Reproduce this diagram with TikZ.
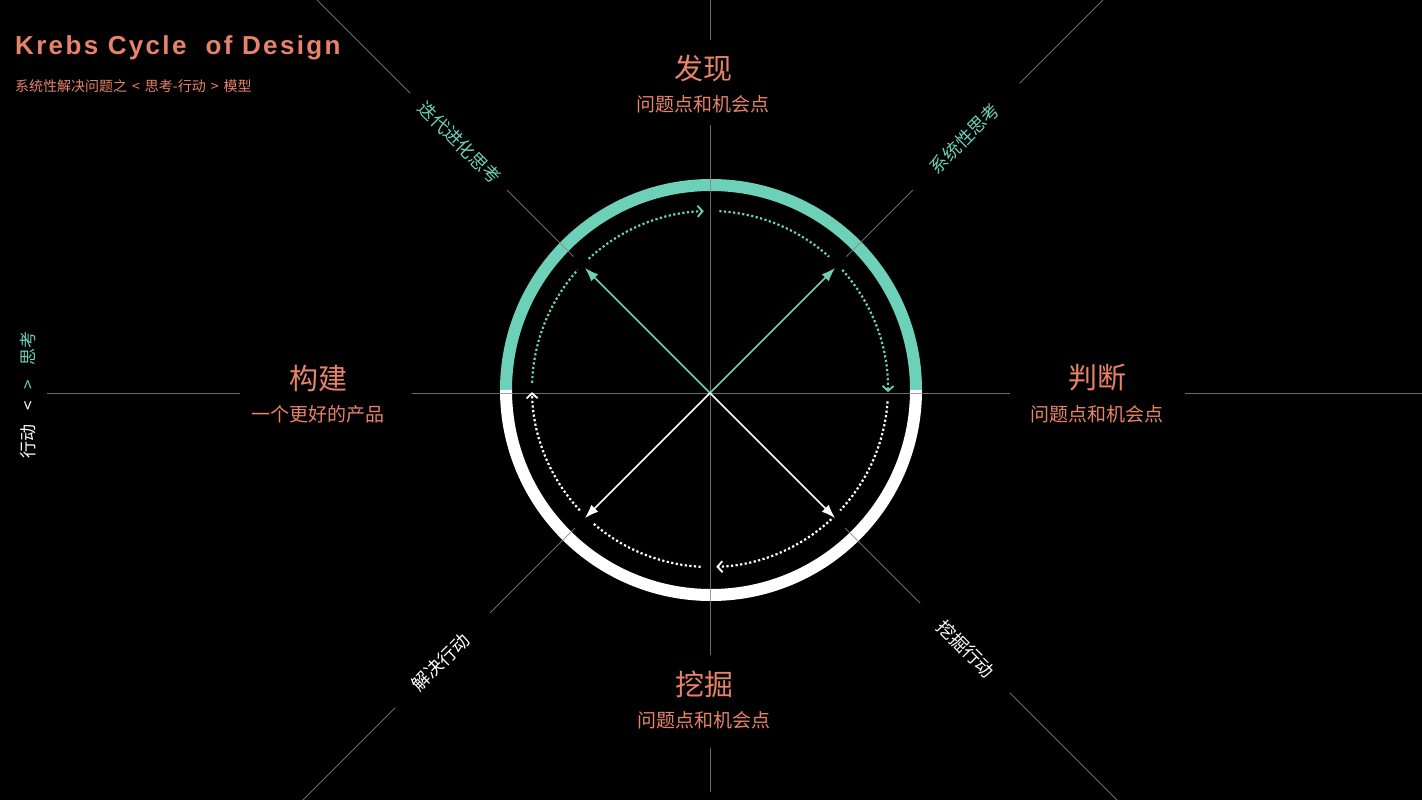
\documentclass[tikz,border=0pt]{standalone}
\usepackage{fontspec}
\setmainfont{Noto Sans CJK SC}
\newfontfamily\titlefont[LetterSpace=9]{Liberation Sans}
\usetikzlibrary{positioning, arrows.meta}
\definecolor{krebsteal}{HTML}{6DD0B8}
\definecolor{krebsorange}{HTML}{E8836A}
\definecolor{axisgray}{HTML}{858585}
\tikzset{
	axis/.style={draw=axisgray, line width=0.9pt, opacity=0.8}, % thin grey guide lines
	ring/.style={line width=12pt}, % the thick outer ring
	flow/.style={line width=2.2pt, dash pattern=on 2.2pt off 2.4pt}, % dotted cycle
	chev/.style={-{Straight Barb[length=5pt, width=11pt, line width=1.8pt]}}, % open arrow head on the cycle
	ray/.style={line width=1.7pt, -{Latex[length=14pt, width=10pt]}}, % arrows out of the centre
	head/.style={text=krebsorange, font=\fontsize{29}{32}\selectfont, inner sep=0pt},
	sub/.style={text=krebsorange, font=\fontsize{19}{22}\selectfont, inner sep=0pt},
	tag/.style={text=white, font=\fontsize{18}{20}\selectfont, inner sep=0pt},
}
\begin{document}
\begin{tikzpicture}[x=1pt, y=-1pt, on grid]
        \useasboundingbox (0,0) rectangle (1422,800);
        \fill[black] (0,0) rectangle (1422,800);
        \coordinate (c) at (710,393); % where the arrows start
        \coordinate (o) at (710,389); % centre of the dotted cycle
        \coordinate (r) at (711,390); % centre of the ring

        % Outer ring: thinking on top, acting below
        \draw[ring, krebsteal] ([shift={(180:205)}]r) arc[start angle=180, end angle=360, radius=205];
        \draw[ring, white] ([shift={(0:205)}]r) arc[start angle=0, end angle=180, radius=205];

        % Guide lines
        \draw[axis] (710,0) -- (710,40);
        \draw[axis] (710,125) -- (710,655);
        \draw[axis] (710,748) -- (710,792);
        \draw[axis] (47,393) -- (240,393);
        \draw[axis] (412,393) -- (1010,393);
        \draw[axis] (1185,393) -- (1422,393);
        \draw[axis] ([shift={(225:556)}]c) -- ([shift={(225:424)}]c);
        \draw[axis] ([shift={(225:287)}]c) -- ([shift={(225:193)}]c);
        \draw[axis] ([shift={(315:556)}]c) -- ([shift={(315:438)}]c);
        \draw[axis] ([shift={(315:287)}]c) -- ([shift={(315:193)}]c);
        \draw[axis] ([shift={(45:191)}]c) -- ([shift={(45:297)}]c);
        \draw[axis] ([shift={(45:424)}]c) -- ([shift={(45:576)}]c);
        \draw[axis] ([shift={(135:191)}]c) -- ([shift={(135:311)}]c);
        \draw[axis] ([shift={(135:445)}]c) -- ([shift={(135:576)}]c);

        % Dotted cycle, running clockwise
        \draw[flow, krebsteal] ([shift={(182:178)}]o) arc[start angle=182, end angle=222, radius=178];
        \draw[flow, krebsteal, chev] ([shift={(227:178)}]o) arc[start angle=227, end angle=268, radius=178];
        \draw[flow, krebsteal] ([shift={(273:178)}]o) arc[start angle=273, end angle=312, radius=178];
        \draw[flow, krebsteal, chev] ([shift={(318:178)}]o) arc[start angle=318, end angle=361, radius=178];
        \draw[flow, white] ([shift={(4:178)}]o) arc[start angle=4, end angle=43, radius=178];
        \draw[flow, white, chev] ([shift={(47:178)}]o) arc[start angle=47, end angle=88, radius=178];
        \draw[flow, white] ([shift={(93:178)}]o) arc[start angle=93, end angle=131, radius=178];
        \draw[flow, white, chev] ([shift={(137:178)}]o) arc[start angle=137, end angle=179, radius=178];

        % Arrows out of the centre
        \coordinate (tl) at ([shift={(225:177)}]c);
        \coordinate (tr) at ([shift={(315:177)}]c);
        \coordinate (br) at ([shift={(45:177)}]c);
        \coordinate (bl) at ([shift={(135:177)}]c);
        \draw[ray, krebsteal] (c) -- (tl);
        \draw[ray, krebsteal] (c) -- (tr);
        \draw[ray, white] (c) -- (br);
        \draw[ray, white] (c) -- (bl);

        % Four stages
        \node[head] (find) at (703,68) {发现};
        \node[sub, below=36pt of find] (findsub) {问题点和机会点};
        \node[head] (judge) at (1097,378) {判断};
        \node[sub, below=36pt of judge] (judgesub) {问题点和机会点};
        \node[head] (dig) at (704,684) {挖掘};
        \node[sub, below=36pt of dig] (digsub) {问题点和机会点};
        \node[head] (build) at (318,378) {构建};
        \node[sub, below=36pt of build] (buildsub) {一个更好的产品};

        % Labels on the diagonals
        \node[tag, text=krebsteal, rotate=-45] (iter) at ([shift={(225:354)}]c) {迭代进化思考};
        \node[tag, text=krebsteal, rotate=45] (sys) at ([shift={(315:360)}]c) {系统性思考};
        \node[tag, rotate=-45] (mine) at ([shift={(45:362)}]c) {挖掘行动};
        \node[tag, rotate=45] (solve) at ([shift={(135:381)}]c) {解决行动};
        \node[tag, font=\fontsize{17}{20}\selectfont, rotate=90] (mode) at (28,395)
            {行动\hspace{14pt}<\hspace{12pt}\textcolor{krebsteal}{>\hspace{14pt}思考}};

        % Title
        \node[anchor=base west, inner sep=0pt, text=krebsorange, font=\titlefont\bfseries\fontsize{26}{29}\selectfont] (title) at (15,55) {Krebs Cycle\ \ of Design};
        \node[anchor=base west, inner sep=0pt, text=krebsorange, font=\fontsize{14}{16}\selectfont] (subtitle) at (15,92)
            {系统性解决问题之\hspace{5pt}<\hspace{5pt}思考-行动\hspace{5pt}>\hspace{5pt}模型};
    \end{tikzpicture}
\end{document}
